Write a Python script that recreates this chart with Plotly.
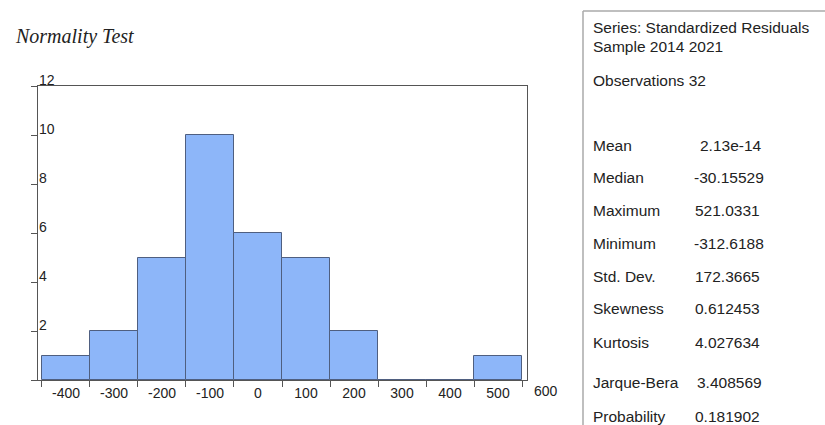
import plotly.graph_objects as go

# ---- data ----
bin_centers = [-400, -300, -200, -100, 0, 100, 200, 300, 400, 500]
counts = [1, 2, 5, 10, 6, 5, 2, 0, 0, 1]
bin_width = 100
x_tick_labels = ["-400", "-300", "-200", "-100", "0", "100", "200", "300", "400", "500"]
extra_x_label = "600"
y_ticks = [0, 2, 4, 6, 8, 10, 12]
y_tick_labels = ["", "2", "4", "6", "8", "10", "12"]

header_lines = ["Series: Standardized Residuals", "Sample 2014 2021", "Observations 32"]
stat_names = ["Mean", "Median", "Maximum", "Minimum", "Std. Dev.", "Skewness",
              "Kurtosis", "Jarque-Bera", "Probability"]
stat_values = ["2.13e-14", "-30.15529", "521.0331", "-312.6188", "172.3665",
               "0.612453", "4.027634", "3.408569", "0.181902"]

# ---- layout geometry (pixels) ----
W, H = 825, 425
PL, PR, PT, PB = 38, 527, 86, 380
XMIN, XMAX = -458.3, 560.4


def px(xp):
    return (xp - PL) / (PR - PL)


def py(yp):
    return (PB - yp) / (PB - PT)


edges = [c - bin_width / 2 for c in bin_centers] + [bin_centers[-1] + bin_width / 2]

fig = go.Figure()
fig.add_trace(go.Bar(
    x=bin_centers, y=counts, width=bin_width,
    marker=dict(color="#8db6f9", line=dict(color="#4f5f80", width=1)),
    showlegend=False, hoverinfo="x+y",
))
# invisible trace to activate second x axis for edge tick marks
fig.add_trace(go.Scatter(x=[edges[0]], y=[0], xaxis="x2", mode="markers",
                         marker=dict(opacity=0), showlegend=False, hoverinfo="skip"))

font_axis = dict(family="Liberation Sans, Arial, sans-serif", size=14, color="#222")

annotations = []
annotations.append(dict(
    text="Normality Test", xref="paper", yref="paper", x=px(13), y=py(37),
    xanchor="left", yanchor="middle", showarrow=False,
    font=dict(family="Liberation Serif, Times New Roman, serif", size=20, color="#222", style="italic"),
))
annotations.append(dict(
    text=extra_x_label, xref="paper", yref="paper",
    x=(600 - XMIN) / (XMAX - XMIN), y=py(391),
    xanchor="center", yanchor="middle", showarrow=False, font=font_axis,
))
# y tick labels drawn inside the frame, just above each tick
for v, lab in zip(y_ticks, y_tick_labels):
    if lab:
        annotations.append(dict(text=lab, xref="paper", yref="y", x=px(37), y=v, yshift=6,
                                xanchor="left", yanchor="middle", showarrow=False, font=font_axis))

font_stats = dict(family="Liberation Sans, Arial, sans-serif", size=15.5, color="#222")
header_y = [27, 47, 80]
for t, yy in zip(header_lines, header_y):
    annotations.append(dict(text=t, xref="paper", yref="paper", x=px(591), y=py(yy),
                            xanchor="left", yanchor="middle", showarrow=False, font=font_stats))
stat_y = [145, 177, 210, 243, 276, 308, 342, 383, 416]
value_x = [698, 692, 693, 692, 693, 693, 693, 695, 693]
for name, val, yy, vx in zip(stat_names, stat_values, stat_y, value_x):
    annotations.append(dict(text=name, xref="paper", yref="paper", x=px(591), y=py(yy),
                            xanchor="left", yanchor="middle", showarrow=False, font=font_stats))
    annotations.append(dict(text=val, xref="paper", yref="paper", x=px(vx), y=py(yy),
                            xanchor="left", yanchor="middle", showarrow=False, font=font_stats))

shapes = [
    dict(type="line", xref="paper", yref="paper", x0=px(583), x1=px(826), y0=py(11), y1=py(11),
         line=dict(color="#aaaaaa", width=1.5)),
    dict(type="line", xref="paper", yref="paper", x0=px(583), x1=px(583), y0=py(11), y1=py(426),
         line=dict(color="#aaaaaa", width=1.5)),
]

fig.update_layout(
    width=W, height=H,
    margin=dict(l=PL, r=W - PR, t=PT, b=H - PB, pad=0),
    paper_bgcolor="white", plot_bgcolor="white",
    bargap=0,
    xaxis=dict(range=[XMIN, XMAX], tickvals=bin_centers, ticktext=x_tick_labels,
               ticks="", showgrid=False, zeroline=False,
               showline=True, mirror=True, linecolor="#555", linewidth=1.2,
               tickfont=font_axis),
    xaxis2=dict(range=[XMIN, XMAX], overlaying="x", side="bottom", tickvals=edges,
                ticks="outside", ticklen=6, tickcolor="#555", showticklabels=False,
                showgrid=False, zeroline=False, showline=False),
    yaxis=dict(range=[0, 12], tickvals=y_ticks, showticklabels=False,
               ticks="outside", ticklen=6, tickcolor="#555",
               showgrid=False, zeroline=False,
               showline=True, mirror=True, linecolor="#555", linewidth=1.2),
    annotations=annotations, shapes=shapes,
)

fig.write_html(
    "out.html",
    config={"displayModeBar": False},
    post_script="document.body.style.margin='0';document.body.style.overflow='hidden';",
)
